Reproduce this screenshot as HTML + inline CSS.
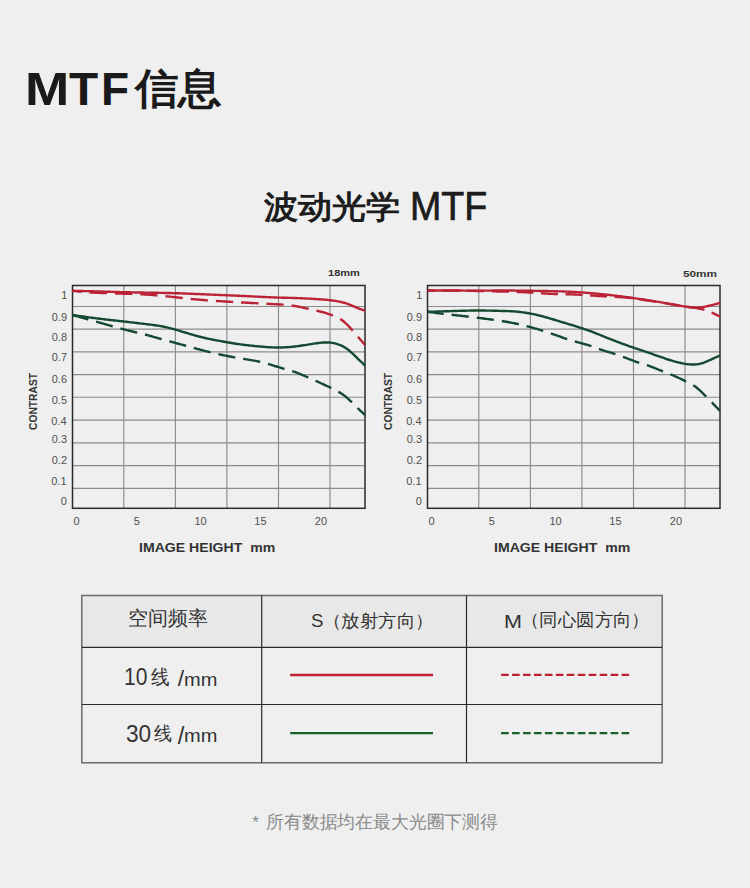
<!DOCTYPE html>
<html><head><meta charset="utf-8">
<style>
html,body{margin:0;padding:0;}
body{width:750px;height:888px;background:#efefef;position:relative;overflow:hidden;font-family:"Liberation Sans",sans-serif;}
.t{position:absolute;white-space:nowrap;line-height:1;transform-origin:0 0;}
svg{position:absolute;left:0;top:0;}
</style></head><body>
<svg width="750" height="888" viewBox="0 0 750 888">
<line x1="72.5" y1="306.5" x2="365.0" y2="306.5" stroke="#8c8c8c" stroke-width="1.15"/>
<line x1="72.5" y1="329.1" x2="365.0" y2="329.1" stroke="#8c8c8c" stroke-width="1.15"/>
<line x1="72.5" y1="351.9" x2="365.0" y2="351.9" stroke="#8c8c8c" stroke-width="1.15"/>
<line x1="72.5" y1="374.6" x2="365.0" y2="374.6" stroke="#8c8c8c" stroke-width="1.15"/>
<line x1="72.5" y1="397.2" x2="365.0" y2="397.2" stroke="#8c8c8c" stroke-width="1.15"/>
<line x1="72.5" y1="420.1" x2="365.0" y2="420.1" stroke="#8c8c8c" stroke-width="1.15"/>
<line x1="72.5" y1="442.9" x2="365.0" y2="442.9" stroke="#8c8c8c" stroke-width="1.15"/>
<line x1="72.5" y1="465.6" x2="365.0" y2="465.6" stroke="#8c8c8c" stroke-width="1.15"/>
<line x1="72.5" y1="488.4" x2="365.0" y2="488.4" stroke="#8c8c8c" stroke-width="1.15"/>
<line x1="123.8" y1="285.5" x2="123.8" y2="508.3" stroke="#8c8c8c" stroke-width="1.15"/>
<line x1="175.4" y1="285.5" x2="175.4" y2="508.3" stroke="#8c8c8c" stroke-width="1.15"/>
<line x1="226.9" y1="285.5" x2="226.9" y2="508.3" stroke="#8c8c8c" stroke-width="1.15"/>
<line x1="278.5" y1="285.5" x2="278.5" y2="508.3" stroke="#8c8c8c" stroke-width="1.15"/>
<line x1="330.0" y1="285.5" x2="330.0" y2="508.3" stroke="#8c8c8c" stroke-width="1.15"/>
<rect x="72.5" y="285.5" width="292.5" height="222.8" fill="none" stroke="#2a2a2a" stroke-width="1.5"/>
<path d="M72.50,290.81 L74.00,290.98 L75.50,291.15 L77.00,291.32 L78.50,291.49 L80.00,291.65 L81.50,291.80 L83.00,291.95 L84.50,292.09 L86.00,292.21 L87.50,292.32 L89.00,292.42 L90.50,292.51 L92.00,292.59 L93.50,292.66 L95.00,292.72 L96.50,292.78 L98.00,292.84 L99.50,292.89 L101.00,292.94 L102.50,292.99 L104.00,293.04 L105.50,293.10 L107.00,293.15 L108.50,293.20 L110.00,293.25 L111.50,293.30 L113.00,293.35 L114.50,293.40 L116.00,293.45 L117.50,293.49 L119.00,293.54 L120.50,293.59 L122.00,293.64 L123.50,293.68 L125.00,293.73 L126.50,293.77 L128.00,293.82 L129.50,293.86 L131.00,293.91 L132.50,293.96 L134.00,294.01 L135.50,294.06 L137.00,294.12 L138.50,294.18 L140.00,294.25 L141.50,294.32 L143.00,294.39 L144.50,294.47 L146.00,294.56 L147.50,294.66 L149.00,294.76 L150.50,294.86 L152.00,294.98 L153.50,295.09 L155.00,295.22 L156.50,295.34 L158.00,295.48 L159.50,295.61 L161.00,295.75 L162.50,295.90 L164.00,296.04 L165.50,296.19 L167.00,296.35 L168.50,296.50 L170.00,296.66 L171.50,296.82 L173.00,296.98 L174.50,297.15 L176.00,297.31 L177.50,297.48 L179.00,297.64 L180.50,297.81 L182.00,297.97 L183.50,298.14 L185.00,298.30 L186.50,298.46 L188.00,298.62 L189.50,298.78 L191.00,298.94 L192.50,299.09 L194.00,299.24 L195.50,299.39 L197.00,299.53 L198.50,299.66 L200.00,299.80 L201.50,299.92 L203.00,300.05 L204.50,300.16 L206.00,300.28 L207.50,300.39 L209.00,300.49 L210.50,300.60 L212.00,300.70 L213.50,300.80 L215.00,300.89 L216.50,300.99 L218.00,301.08 L219.50,301.17 L221.00,301.26 L222.50,301.35 L224.00,301.44 L225.50,301.53 L227.00,301.62 L228.50,301.71 L230.00,301.80 L231.50,301.89 L233.00,301.97 L234.50,302.06 L236.00,302.15 L237.50,302.23 L239.00,302.31 L240.50,302.40 L242.00,302.48 L243.50,302.56 L245.00,302.64 L246.50,302.72 L248.00,302.80 L249.50,302.87 L251.00,302.95 L252.50,303.02 L254.00,303.10 L255.50,303.17 L257.00,303.25 L258.50,303.32 L260.00,303.39 L261.50,303.47 L263.00,303.54 L264.50,303.62 L266.00,303.69 L267.50,303.77 L269.00,303.85 L270.50,303.93 L272.00,304.01 L273.50,304.09 L275.00,304.18 L276.50,304.26 L278.00,304.35 L279.50,304.45 L281.00,304.55 L282.50,304.65 L284.00,304.76 L285.50,304.88 L287.00,305.02 L288.50,305.17 L290.00,305.33 L291.50,305.51 L293.00,305.72 L294.50,305.94 L296.00,306.19 L297.50,306.47 L299.00,306.76 L300.50,307.07 L302.00,307.39 L303.50,307.72 L305.00,308.06 L306.50,308.40 L308.00,308.75 L309.50,309.08 L311.00,309.42 L312.50,309.75 L314.00,310.09 L315.50,310.42 L317.00,310.77 L318.50,311.12 L320.00,311.49 L321.50,311.87 L323.00,312.27 L324.50,312.69 L326.00,313.13 L327.50,313.59 L329.00,314.08 L330.50,314.60 L332.00,315.14 L333.50,315.72 L335.00,316.33 L336.50,316.99 L338.00,317.72 L339.50,318.54 L341.00,319.47 L342.50,320.53 L344.00,321.73 L345.50,323.06 L347.00,324.49 L348.50,326.01 L350.00,327.61 L351.50,329.26 L353.00,330.96 L354.50,332.69 L356.00,334.44 L357.50,336.20 L359.00,337.96 L360.50,339.73 L362.00,341.49 L363.50,343.25 L365.00,345.00" fill="none" stroke="#bb2236" stroke-width="2.4" stroke-dasharray="17.3 8" stroke-dashoffset="8.0"/>
<path d="M72.50,290.80 L74.00,290.84 L75.50,290.87 L77.00,290.91 L78.50,290.94 L80.00,290.98 L81.50,291.02 L83.00,291.05 L84.50,291.09 L86.00,291.13 L87.50,291.16 L89.00,291.20 L90.50,291.24 L92.00,291.28 L93.50,291.32 L95.00,291.36 L96.50,291.40 L98.00,291.44 L99.50,291.49 L101.00,291.53 L102.50,291.57 L104.00,291.62 L105.50,291.67 L107.00,291.71 L108.50,291.76 L110.00,291.80 L111.50,291.85 L113.00,291.89 L114.50,291.94 L116.00,291.98 L117.50,292.03 L119.00,292.07 L120.50,292.11 L122.00,292.15 L123.50,292.19 L125.00,292.22 L126.50,292.26 L128.00,292.29 L129.50,292.32 L131.00,292.35 L132.50,292.38 L134.00,292.41 L135.50,292.44 L137.00,292.47 L138.50,292.49 L140.00,292.52 L141.50,292.54 L143.00,292.57 L144.50,292.59 L146.00,292.62 L147.50,292.64 L149.00,292.66 L150.50,292.69 L152.00,292.71 L153.50,292.74 L155.00,292.76 L156.50,292.79 L158.00,292.82 L159.50,292.84 L161.00,292.87 L162.50,292.90 L164.00,292.93 L165.50,292.96 L167.00,293.00 L168.50,293.03 L170.00,293.07 L171.50,293.11 L173.00,293.15 L174.50,293.19 L176.00,293.23 L177.50,293.28 L179.00,293.32 L180.50,293.37 L182.00,293.42 L183.50,293.47 L185.00,293.53 L186.50,293.58 L188.00,293.64 L189.50,293.70 L191.00,293.75 L192.50,293.81 L194.00,293.88 L195.50,293.94 L197.00,294.00 L198.50,294.06 L200.00,294.13 L201.50,294.19 L203.00,294.26 L204.50,294.32 L206.00,294.39 L207.50,294.45 L209.00,294.52 L210.50,294.58 L212.00,294.65 L213.50,294.72 L215.00,294.78 L216.50,294.85 L218.00,294.91 L219.50,294.98 L221.00,295.04 L222.50,295.11 L224.00,295.17 L225.50,295.23 L227.00,295.29 L228.50,295.36 L230.00,295.42 L231.50,295.48 L233.00,295.54 L234.50,295.61 L236.00,295.67 L237.50,295.74 L239.00,295.80 L240.50,295.87 L242.00,295.93 L243.50,296.00 L245.00,296.07 L246.50,296.14 L248.00,296.21 L249.50,296.28 L251.00,296.35 L252.50,296.42 L254.00,296.50 L255.50,296.58 L257.00,296.65 L258.50,296.73 L260.00,296.80 L261.50,296.88 L263.00,296.95 L264.50,297.03 L266.00,297.10 L267.50,297.17 L269.00,297.23 L270.50,297.30 L272.00,297.36 L273.50,297.42 L275.00,297.48 L276.50,297.53 L278.00,297.58 L279.50,297.62 L281.00,297.66 L282.50,297.70 L284.00,297.73 L285.50,297.77 L287.00,297.80 L288.50,297.83 L290.00,297.87 L291.50,297.90 L293.00,297.95 L294.50,297.99 L296.00,298.04 L297.50,298.09 L299.00,298.15 L300.50,298.21 L302.00,298.28 L303.50,298.35 L305.00,298.43 L306.50,298.50 L308.00,298.59 L309.50,298.67 L311.00,298.75 L312.50,298.84 L314.00,298.93 L315.50,299.02 L317.00,299.12 L318.50,299.21 L320.00,299.31 L321.50,299.42 L323.00,299.53 L324.50,299.66 L326.00,299.79 L327.50,299.93 L329.00,300.09 L330.50,300.25 L332.00,300.44 L333.50,300.64 L335.00,300.86 L336.50,301.10 L338.00,301.37 L339.50,301.66 L341.00,301.99 L342.50,302.35 L344.00,302.76 L345.50,303.21 L347.00,303.70 L348.50,304.24 L350.00,304.81 L351.50,305.41 L353.00,306.03 L354.50,306.66 L356.00,307.29 L357.50,307.91 L359.00,308.51 L360.50,309.07 L362.00,309.59 L363.50,310.08 L365.00,310.56" fill="none" stroke="#bb2236" stroke-width="2.4"/>
<path d="M72.50,315.00 L74.00,315.42 L75.50,315.84 L77.00,316.27 L78.50,316.69 L80.00,317.11 L81.50,317.53 L83.00,317.95 L84.50,318.38 L86.00,318.80 L87.50,319.22 L89.00,319.64 L90.50,320.06 L92.00,320.48 L93.50,320.90 L95.00,321.32 L96.50,321.75 L98.00,322.17 L99.50,322.59 L101.00,323.01 L102.50,323.44 L104.00,323.86 L105.50,324.29 L107.00,324.71 L108.50,325.14 L110.00,325.56 L111.50,325.98 L113.00,326.41 L114.50,326.83 L116.00,327.24 L117.50,327.66 L119.00,328.07 L120.50,328.47 L122.00,328.87 L123.50,329.27 L125.00,329.66 L126.50,330.04 L128.00,330.42 L129.50,330.79 L131.00,331.15 L132.50,331.50 L134.00,331.86 L135.50,332.21 L137.00,332.56 L138.50,332.92 L140.00,333.27 L141.50,333.64 L143.00,334.01 L144.50,334.39 L146.00,334.78 L147.50,335.17 L149.00,335.58 L150.50,336.00 L152.00,336.42 L153.50,336.85 L155.00,337.28 L156.50,337.71 L158.00,338.14 L159.50,338.57 L161.00,338.99 L162.50,339.41 L164.00,339.83 L165.50,340.25 L167.00,340.66 L168.50,341.07 L170.00,341.47 L171.50,341.88 L173.00,342.28 L174.50,342.68 L176.00,343.08 L177.50,343.48 L179.00,343.89 L180.50,344.29 L182.00,344.69 L183.50,345.10 L185.00,345.50 L186.50,345.91 L188.00,346.32 L189.50,346.74 L191.00,347.15 L192.50,347.56 L194.00,347.98 L195.50,348.39 L197.00,348.80 L198.50,349.20 L200.00,349.61 L201.50,350.01 L203.00,350.41 L204.50,350.80 L206.00,351.19 L207.50,351.57 L209.00,351.95 L210.50,352.32 L212.00,352.68 L213.50,353.04 L215.00,353.39 L216.50,353.73 L218.00,354.06 L219.50,354.39 L221.00,354.71 L222.50,355.03 L224.00,355.34 L225.50,355.64 L227.00,355.94 L228.50,356.23 L230.00,356.52 L231.50,356.80 L233.00,357.08 L234.50,357.35 L236.00,357.61 L237.50,357.88 L239.00,358.13 L240.50,358.38 L242.00,358.63 L243.50,358.87 L245.00,359.11 L246.50,359.35 L248.00,359.58 L249.50,359.83 L251.00,360.07 L252.50,360.33 L254.00,360.60 L255.50,360.88 L257.00,361.17 L258.50,361.49 L260.00,361.82 L261.50,362.18 L263.00,362.55 L264.50,362.94 L266.00,363.35 L267.50,363.78 L269.00,364.21 L270.50,364.66 L272.00,365.11 L273.50,365.57 L275.00,366.04 L276.50,366.50 L278.00,366.96 L279.50,367.42 L281.00,367.88 L282.50,368.32 L284.00,368.76 L285.50,369.19 L287.00,369.61 L288.50,370.04 L290.00,370.47 L291.50,370.92 L293.00,371.38 L294.50,371.88 L296.00,372.40 L297.50,372.97 L299.00,373.55 L300.50,374.16 L302.00,374.80 L303.50,375.44 L305.00,376.09 L306.50,376.75 L308.00,377.41 L309.50,378.07 L311.00,378.73 L312.50,379.39 L314.00,380.06 L315.50,380.73 L317.00,381.41 L318.50,382.09 L320.00,382.78 L321.50,383.47 L323.00,384.17 L324.50,384.87 L326.00,385.57 L327.50,386.28 L329.00,386.99 L330.50,387.70 L332.00,388.41 L333.50,389.14 L335.00,389.89 L336.50,390.67 L338.00,391.49 L339.50,392.36 L341.00,393.28 L342.50,394.28 L344.00,395.36 L345.50,396.53 L347.00,397.79 L348.50,399.13 L350.00,400.54 L351.50,401.98 L353.00,403.46 L354.50,404.95 L356.00,406.44 L357.50,407.92 L359.00,409.37 L360.50,410.80 L362.00,412.22 L363.50,413.62 L365.00,415.02" fill="none" stroke="#134a30" stroke-width="2.4" stroke-dasharray="17.3 8" stroke-dashoffset="0.8"/>
<path d="M72.50,315.00 L74.00,315.22 L75.50,315.44 L77.00,315.66 L78.50,315.87 L80.00,316.09 L81.50,316.31 L83.00,316.52 L84.50,316.73 L86.00,316.94 L87.50,317.15 L89.00,317.36 L90.50,317.57 L92.00,317.77 L93.50,317.97 L95.00,318.17 L96.50,318.36 L98.00,318.55 L99.50,318.74 L101.00,318.92 L102.50,319.10 L104.00,319.27 L105.50,319.45 L107.00,319.62 L108.50,319.79 L110.00,319.95 L111.50,320.12 L113.00,320.29 L114.50,320.45 L116.00,320.61 L117.50,320.78 L119.00,320.94 L120.50,321.11 L122.00,321.28 L123.50,321.45 L125.00,321.62 L126.50,321.79 L128.00,321.97 L129.50,322.14 L131.00,322.32 L132.50,322.50 L134.00,322.68 L135.50,322.86 L137.00,323.04 L138.50,323.22 L140.00,323.40 L141.50,323.58 L143.00,323.75 L144.50,323.93 L146.00,324.11 L147.50,324.28 L149.00,324.46 L150.50,324.64 L152.00,324.83 L153.50,325.02 L155.00,325.23 L156.50,325.44 L158.00,325.68 L159.50,325.93 L161.00,326.19 L162.50,326.48 L164.00,326.79 L165.50,327.11 L167.00,327.45 L168.50,327.80 L170.00,328.17 L171.50,328.56 L173.00,328.95 L174.50,329.37 L176.00,329.79 L177.50,330.22 L179.00,330.66 L180.50,331.11 L182.00,331.57 L183.50,332.03 L185.00,332.48 L186.50,332.94 L188.00,333.40 L189.50,333.85 L191.00,334.29 L192.50,334.72 L194.00,335.15 L195.50,335.57 L197.00,335.98 L198.50,336.38 L200.00,336.77 L201.50,337.15 L203.00,337.52 L204.50,337.88 L206.00,338.22 L207.50,338.55 L209.00,338.88 L210.50,339.19 L212.00,339.49 L213.50,339.79 L215.00,340.08 L216.50,340.36 L218.00,340.64 L219.50,340.92 L221.00,341.19 L222.50,341.46 L224.00,341.73 L225.50,341.99 L227.00,342.25 L228.50,342.51 L230.00,342.76 L231.50,343.01 L233.00,343.25 L234.50,343.49 L236.00,343.72 L237.50,343.94 L239.00,344.16 L240.50,344.37 L242.00,344.57 L243.50,344.76 L245.00,344.95 L246.50,345.13 L248.00,345.31 L249.50,345.47 L251.00,345.64 L252.50,345.79 L254.00,345.95 L255.50,346.09 L257.00,346.23 L258.50,346.37 L260.00,346.51 L261.50,346.64 L263.00,346.76 L264.50,346.88 L266.00,346.99 L267.50,347.10 L269.00,347.19 L270.50,347.27 L272.00,347.35 L273.50,347.40 L275.00,347.45 L276.50,347.48 L278.00,347.49 L279.50,347.49 L281.00,347.47 L282.50,347.43 L284.00,347.38 L285.50,347.31 L287.00,347.22 L288.50,347.12 L290.00,347.00 L291.50,346.87 L293.00,346.72 L294.50,346.55 L296.00,346.37 L297.50,346.18 L299.00,345.97 L300.50,345.76 L302.00,345.53 L303.50,345.30 L305.00,345.06 L306.50,344.82 L308.00,344.58 L309.50,344.34 L311.00,344.10 L312.50,343.86 L314.00,343.63 L315.50,343.41 L317.00,343.19 L318.50,343.00 L320.00,342.82 L321.50,342.67 L323.00,342.55 L324.50,342.47 L326.00,342.43 L327.50,342.45 L329.00,342.52 L330.50,342.64 L332.00,342.84 L333.50,343.09 L335.00,343.42 L336.50,343.81 L338.00,344.28 L339.50,344.82 L341.00,345.44 L342.50,346.15 L344.00,346.96 L345.50,347.87 L347.00,348.89 L348.50,350.01 L350.00,351.24 L351.50,352.55 L353.00,353.95 L354.50,355.40 L356.00,356.87 L357.50,358.35 L359.00,359.81 L360.50,361.25 L362.00,362.68 L363.50,364.10 L365.00,365.52" fill="none" stroke="#134a30" stroke-width="2.4"/>
<line x1="427.5" y1="306.5" x2="720.0" y2="306.5" stroke="#8c8c8c" stroke-width="1.15"/>
<line x1="427.5" y1="329.1" x2="720.0" y2="329.1" stroke="#8c8c8c" stroke-width="1.15"/>
<line x1="427.5" y1="351.9" x2="720.0" y2="351.9" stroke="#8c8c8c" stroke-width="1.15"/>
<line x1="427.5" y1="374.6" x2="720.0" y2="374.6" stroke="#8c8c8c" stroke-width="1.15"/>
<line x1="427.5" y1="397.2" x2="720.0" y2="397.2" stroke="#8c8c8c" stroke-width="1.15"/>
<line x1="427.5" y1="420.1" x2="720.0" y2="420.1" stroke="#8c8c8c" stroke-width="1.15"/>
<line x1="427.5" y1="442.9" x2="720.0" y2="442.9" stroke="#8c8c8c" stroke-width="1.15"/>
<line x1="427.5" y1="465.6" x2="720.0" y2="465.6" stroke="#8c8c8c" stroke-width="1.15"/>
<line x1="427.5" y1="488.4" x2="720.0" y2="488.4" stroke="#8c8c8c" stroke-width="1.15"/>
<line x1="478.8" y1="285.5" x2="478.8" y2="508.3" stroke="#8c8c8c" stroke-width="1.15"/>
<line x1="530.4" y1="285.5" x2="530.4" y2="508.3" stroke="#8c8c8c" stroke-width="1.15"/>
<line x1="581.9" y1="285.5" x2="581.9" y2="508.3" stroke="#8c8c8c" stroke-width="1.15"/>
<line x1="633.5" y1="285.5" x2="633.5" y2="508.3" stroke="#8c8c8c" stroke-width="1.15"/>
<line x1="685.0" y1="285.5" x2="685.0" y2="508.3" stroke="#8c8c8c" stroke-width="1.15"/>
<rect x="427.5" y="285.5" width="292.5" height="222.8" fill="none" stroke="#2a2a2a" stroke-width="1.5"/>
<path d="M427.70,290.50 L429.21,290.51 L430.71,290.51 L432.22,290.52 L433.73,290.53 L435.23,290.53 L436.74,290.54 L438.25,290.55 L439.75,290.56 L441.26,290.56 L442.77,290.57 L444.27,290.58 L445.78,290.59 L447.29,290.60 L448.79,290.61 L450.30,290.62 L451.81,290.63 L453.31,290.65 L454.82,290.66 L456.33,290.67 L457.83,290.69 L459.34,290.70 L460.85,290.72 L462.35,290.74 L463.86,290.76 L465.37,290.77 L466.87,290.79 L468.38,290.82 L469.89,290.84 L471.39,290.86 L472.90,290.89 L474.41,290.91 L475.91,290.94 L477.42,290.97 L478.93,291.00 L480.43,291.03 L481.94,291.06 L483.45,291.10 L484.95,291.13 L486.46,291.17 L487.97,291.20 L489.47,291.24 L490.98,291.28 L492.49,291.32 L493.99,291.35 L495.50,291.39 L497.01,291.43 L498.51,291.46 L500.02,291.50 L501.53,291.53 L503.04,291.57 L504.54,291.60 L506.05,291.64 L507.56,291.67 L509.06,291.71 L510.57,291.75 L512.08,291.79 L513.58,291.83 L515.09,291.87 L516.60,291.92 L518.10,291.97 L519.61,292.02 L521.12,292.08 L522.62,292.14 L524.13,292.20 L525.64,292.27 L527.14,292.35 L528.65,292.43 L530.16,292.52 L531.66,292.61 L533.17,292.71 L534.68,292.81 L536.18,292.91 L537.69,293.02 L539.20,293.12 L540.70,293.23 L542.21,293.33 L543.72,293.43 L545.22,293.53 L546.73,293.62 L548.24,293.70 L549.74,293.78 L551.25,293.85 L552.76,293.91 L554.26,293.96 L555.77,294.00 L557.28,294.05 L558.78,294.08 L560.29,294.12 L561.80,294.15 L563.30,294.18 L564.81,294.21 L566.32,294.25 L567.82,294.28 L569.33,294.32 L570.84,294.36 L572.34,294.41 L573.85,294.46 L575.36,294.52 L576.86,294.59 L578.37,294.67 L579.88,294.75 L581.38,294.84 L582.89,294.93 L584.40,295.03 L585.90,295.13 L587.41,295.23 L588.92,295.33 L590.42,295.43 L591.93,295.54 L593.44,295.64 L594.94,295.74 L596.45,295.84 L597.96,295.93 L599.46,296.02 L600.97,296.11 L602.48,296.19 L603.98,296.27 L605.49,296.34 L607.00,296.42 L608.50,296.49 L610.01,296.57 L611.52,296.64 L613.02,296.72 L614.53,296.80 L616.04,296.89 L617.54,296.97 L619.05,297.07 L620.56,297.17 L622.06,297.27 L623.57,297.39 L625.08,297.51 L626.58,297.64 L628.09,297.78 L629.60,297.93 L631.10,298.09 L632.61,298.26 L634.12,298.44 L635.62,298.64 L637.13,298.84 L638.64,299.05 L640.14,299.27 L641.65,299.49 L643.16,299.72 L644.66,299.95 L646.17,300.19 L647.68,300.43 L649.19,300.66 L650.69,300.90 L652.20,301.14 L653.71,301.38 L655.21,301.62 L656.72,301.86 L658.23,302.10 L659.73,302.34 L661.24,302.58 L662.75,302.83 L664.25,303.08 L665.76,303.34 L667.27,303.59 L668.77,303.85 L670.28,304.12 L671.79,304.38 L673.29,304.64 L674.80,304.89 L676.31,305.15 L677.81,305.39 L679.32,305.64 L680.83,305.87 L682.33,306.10 L683.84,306.31 L685.35,306.52 L686.85,306.71 L688.36,306.90 L689.87,307.09 L691.37,307.29 L692.88,307.49 L694.39,307.70 L695.89,307.94 L697.40,308.20 L698.91,308.49 L700.41,308.81 L701.92,309.17 L703.43,309.58 L704.93,310.03 L706.44,310.54 L707.95,311.09 L709.45,311.69 L710.96,312.32 L712.47,312.97 L713.97,313.65 L715.48,314.34 L716.99,315.05 L718.49,315.76 L720.00,316.48" fill="none" stroke="#bb2236" stroke-width="2.4" stroke-dasharray="17 7.6" stroke-dashoffset="9.7"/>
<path d="M427.70,290.50 L429.21,290.49 L430.71,290.49 L432.22,290.48 L433.73,290.48 L435.23,290.47 L436.74,290.47 L438.25,290.46 L439.75,290.46 L441.26,290.46 L442.77,290.46 L444.27,290.46 L445.78,290.46 L447.29,290.46 L448.79,290.47 L450.30,290.47 L451.81,290.48 L453.31,290.49 L454.82,290.50 L456.33,290.51 L457.83,290.53 L459.34,290.54 L460.85,290.56 L462.35,290.58 L463.86,290.60 L465.37,290.61 L466.87,290.63 L468.38,290.64 L469.89,290.66 L471.39,290.67 L472.90,290.68 L474.41,290.69 L475.91,290.70 L477.42,290.70 L478.93,290.70 L480.43,290.69 L481.94,290.68 L483.45,290.67 L484.95,290.66 L486.46,290.64 L487.97,290.62 L489.47,290.61 L490.98,290.59 L492.49,290.57 L493.99,290.55 L495.50,290.54 L497.01,290.52 L498.51,290.51 L500.02,290.50 L501.53,290.50 L503.04,290.50 L504.54,290.50 L506.05,290.50 L507.56,290.51 L509.06,290.52 L510.57,290.53 L512.08,290.55 L513.58,290.56 L515.09,290.58 L516.60,290.60 L518.10,290.62 L519.61,290.64 L521.12,290.66 L522.62,290.68 L524.13,290.71 L525.64,290.73 L527.14,290.75 L528.65,290.78 L530.16,290.80 L531.66,290.82 L533.17,290.84 L534.68,290.87 L536.18,290.89 L537.69,290.91 L539.20,290.93 L540.70,290.95 L542.21,290.98 L543.72,291.00 L545.22,291.03 L546.73,291.05 L548.24,291.08 L549.74,291.11 L551.25,291.14 L552.76,291.17 L554.26,291.21 L555.77,291.25 L557.28,291.29 L558.78,291.33 L560.29,291.37 L561.80,291.42 L563.30,291.47 L564.81,291.53 L566.32,291.59 L567.82,291.65 L569.33,291.72 L570.84,291.79 L572.34,291.86 L573.85,291.94 L575.36,292.02 L576.86,292.11 L578.37,292.20 L579.88,292.30 L581.38,292.40 L582.89,292.51 L584.40,292.62 L585.90,292.73 L587.41,292.85 L588.92,292.97 L590.42,293.10 L591.93,293.23 L593.44,293.36 L594.94,293.50 L596.45,293.64 L597.96,293.78 L599.46,293.93 L600.97,294.08 L602.48,294.24 L603.98,294.39 L605.49,294.55 L607.00,294.71 L608.50,294.88 L610.01,295.05 L611.52,295.22 L613.02,295.39 L614.53,295.57 L616.04,295.75 L617.54,295.94 L619.05,296.12 L620.56,296.31 L622.06,296.50 L623.57,296.70 L625.08,296.90 L626.58,297.10 L628.09,297.31 L629.60,297.52 L631.10,297.73 L632.61,297.95 L634.12,298.16 L635.62,298.39 L637.13,298.61 L638.64,298.84 L640.14,299.07 L641.65,299.30 L643.16,299.53 L644.66,299.77 L646.17,300.00 L647.68,300.23 L649.19,300.47 L650.69,300.70 L652.20,300.94 L653.71,301.17 L655.21,301.41 L656.72,301.64 L658.23,301.88 L659.73,302.13 L661.24,302.37 L662.75,302.62 L664.25,302.88 L665.76,303.14 L667.27,303.41 L668.77,303.68 L670.28,303.95 L671.79,304.22 L673.29,304.50 L674.80,304.77 L676.31,305.05 L677.81,305.32 L679.32,305.58 L680.83,305.84 L682.33,306.09 L683.84,306.34 L685.35,306.57 L686.85,306.80 L688.36,307.00 L689.87,307.19 L691.37,307.34 L692.88,307.47 L694.39,307.55 L695.89,307.59 L697.40,307.58 L698.91,307.52 L700.41,307.40 L701.92,307.21 L703.43,306.97 L704.93,306.69 L706.44,306.37 L707.95,306.03 L709.45,305.67 L710.96,305.30 L712.47,304.92 L713.97,304.54 L715.48,304.16 L716.99,303.78 L718.49,303.39 L720.00,303.00" fill="none" stroke="#bb2236" stroke-width="2.4"/>
<path d="M427.70,311.80 L429.21,312.01 L430.71,312.21 L432.22,312.41 L433.73,312.61 L435.23,312.81 L436.74,313.01 L438.25,313.20 L439.75,313.39 L441.26,313.58 L442.77,313.77 L444.27,313.95 L445.78,314.12 L447.29,314.30 L448.79,314.47 L450.30,314.64 L451.81,314.80 L453.31,314.97 L454.82,315.13 L456.33,315.30 L457.83,315.46 L459.34,315.63 L460.85,315.80 L462.35,315.97 L463.86,316.14 L465.37,316.31 L466.87,316.48 L468.38,316.66 L469.89,316.84 L471.39,317.02 L472.90,317.20 L474.41,317.38 L475.91,317.56 L477.42,317.75 L478.93,317.93 L480.43,318.12 L481.94,318.31 L483.45,318.50 L484.95,318.69 L486.46,318.88 L487.97,319.08 L489.47,319.28 L490.98,319.48 L492.49,319.68 L493.99,319.89 L495.50,320.10 L497.01,320.32 L498.51,320.54 L500.02,320.77 L501.53,321.01 L503.04,321.25 L504.54,321.50 L506.05,321.76 L507.56,322.02 L509.06,322.30 L510.57,322.58 L512.08,322.87 L513.58,323.17 L515.09,323.47 L516.60,323.79 L518.10,324.11 L519.61,324.45 L521.12,324.79 L522.62,325.14 L524.13,325.50 L525.64,325.87 L527.14,326.24 L528.65,326.63 L530.16,327.03 L531.66,327.43 L533.17,327.85 L534.68,328.28 L536.18,328.71 L537.69,329.16 L539.20,329.61 L540.70,330.08 L542.21,330.55 L543.72,331.04 L545.22,331.53 L546.73,332.04 L548.24,332.55 L549.74,333.06 L551.25,333.59 L552.76,334.11 L554.26,334.63 L555.77,335.16 L557.28,335.69 L558.78,336.21 L560.29,336.73 L561.80,337.25 L563.30,337.77 L564.81,338.27 L566.32,338.78 L567.82,339.27 L569.33,339.75 L570.84,340.23 L572.34,340.69 L573.85,341.14 L575.36,341.58 L576.86,342.00 L578.37,342.41 L579.88,342.82 L581.38,343.23 L582.89,343.64 L584.40,344.05 L585.90,344.48 L587.41,344.92 L588.92,345.38 L590.42,345.87 L591.93,346.38 L593.44,346.92 L594.94,347.47 L596.45,348.02 L597.96,348.57 L599.46,349.10 L600.97,349.62 L602.48,350.11 L603.98,350.60 L605.49,351.07 L607.00,351.53 L608.50,351.99 L610.01,352.45 L611.52,352.92 L613.02,353.39 L614.53,353.87 L616.04,354.36 L617.54,354.87 L619.05,355.39 L620.56,355.92 L622.06,356.47 L623.57,357.02 L625.08,357.59 L626.58,358.17 L628.09,358.75 L629.60,359.33 L631.10,359.90 L632.61,360.48 L634.12,361.04 L635.62,361.59 L637.13,362.12 L638.64,362.63 L640.14,363.12 L641.65,363.60 L643.16,364.06 L644.66,364.52 L646.17,364.99 L647.68,365.47 L649.19,365.98 L650.69,366.51 L652.20,367.07 L653.71,367.65 L655.21,368.25 L656.72,368.87 L658.23,369.49 L659.73,370.11 L661.24,370.73 L662.75,371.34 L664.25,371.93 L665.76,372.51 L667.27,373.08 L668.77,373.66 L670.28,374.26 L671.79,374.87 L673.29,375.51 L674.80,376.17 L676.31,376.84 L677.81,377.53 L679.32,378.23 L680.83,378.93 L682.33,379.65 L683.84,380.36 L685.35,381.07 L686.85,381.78 L688.36,382.50 L689.87,383.25 L691.37,384.06 L692.88,384.95 L694.39,385.94 L695.89,387.04 L697.40,388.26 L698.91,389.56 L700.41,390.93 L701.92,392.36 L703.43,393.84 L704.93,395.34 L706.44,396.86 L707.95,398.38 L709.45,399.92 L710.96,401.46 L712.47,403.02 L713.97,404.59 L715.48,406.18 L716.99,407.77 L718.49,409.38 L720.00,410.99" fill="none" stroke="#134a30" stroke-width="2.4" stroke-dasharray="17.3 8" stroke-dashoffset="1.2"/>
<path d="M427.70,311.80 L429.21,311.76 L430.71,311.71 L432.22,311.67 L433.73,311.63 L435.23,311.58 L436.74,311.54 L438.25,311.50 L439.75,311.45 L441.26,311.41 L442.77,311.36 L444.27,311.32 L445.78,311.27 L447.29,311.23 L448.79,311.19 L450.30,311.14 L451.81,311.09 L453.31,311.05 L454.82,311.00 L456.33,310.96 L457.83,310.91 L459.34,310.87 L460.85,310.82 L462.35,310.78 L463.86,310.74 L465.37,310.70 L466.87,310.66 L468.38,310.63 L469.89,310.60 L471.39,310.57 L472.90,310.55 L474.41,310.53 L475.91,310.51 L477.42,310.51 L478.93,310.50 L480.43,310.51 L481.94,310.52 L483.45,310.53 L484.95,310.55 L486.46,310.58 L487.97,310.60 L489.47,310.63 L490.98,310.67 L492.49,310.70 L493.99,310.74 L495.50,310.78 L497.01,310.81 L498.51,310.85 L500.02,310.89 L501.53,310.93 L503.04,310.97 L504.54,311.01 L506.05,311.05 L507.56,311.10 L509.06,311.16 L510.57,311.23 L512.08,311.31 L513.58,311.41 L515.09,311.52 L516.60,311.64 L518.10,311.79 L519.61,311.95 L521.12,312.12 L522.62,312.32 L524.13,312.53 L525.64,312.75 L527.14,313.00 L528.65,313.26 L530.16,313.53 L531.66,313.82 L533.17,314.12 L534.68,314.44 L536.18,314.78 L537.69,315.13 L539.20,315.49 L540.70,315.86 L542.21,316.25 L543.72,316.65 L545.22,317.07 L546.73,317.49 L548.24,317.93 L549.74,318.37 L551.25,318.82 L552.76,319.27 L554.26,319.73 L555.77,320.20 L557.28,320.66 L558.78,321.12 L560.29,321.58 L561.80,322.03 L563.30,322.48 L564.81,322.94 L566.32,323.38 L567.82,323.83 L569.33,324.28 L570.84,324.74 L572.34,325.19 L573.85,325.65 L575.36,326.11 L576.86,326.58 L578.37,327.05 L579.88,327.53 L581.38,328.02 L582.89,328.51 L584.40,329.02 L585.90,329.54 L587.41,330.07 L588.92,330.61 L590.42,331.17 L591.93,331.74 L593.44,332.33 L594.94,332.92 L596.45,333.52 L597.96,334.13 L599.46,334.74 L600.97,335.35 L602.48,335.97 L603.98,336.58 L605.49,337.19 L607.00,337.79 L608.50,338.39 L610.01,338.98 L611.52,339.57 L613.02,340.15 L614.53,340.73 L616.04,341.31 L617.54,341.88 L619.05,342.45 L620.56,343.01 L622.06,343.57 L623.57,344.13 L625.08,344.68 L626.58,345.23 L628.09,345.77 L629.60,346.30 L631.10,346.83 L632.61,347.36 L634.12,347.88 L635.62,348.39 L637.13,348.89 L638.64,349.40 L640.14,349.90 L641.65,350.40 L643.16,350.90 L644.66,351.40 L646.17,351.91 L647.68,352.42 L649.19,352.93 L650.69,353.45 L652.20,353.98 L653.71,354.52 L655.21,355.05 L656.72,355.59 L658.23,356.13 L659.73,356.67 L661.24,357.20 L662.75,357.72 L664.25,358.24 L665.76,358.76 L667.27,359.26 L668.77,359.74 L670.28,360.22 L671.79,360.68 L673.29,361.12 L674.80,361.55 L676.31,361.95 L677.81,362.33 L679.32,362.69 L680.83,363.03 L682.33,363.34 L683.84,363.62 L685.35,363.88 L686.85,364.10 L688.36,364.28 L689.87,364.42 L691.37,364.51 L692.88,364.54 L694.39,364.51 L695.89,364.41 L697.40,364.24 L698.91,363.99 L700.41,363.66 L701.92,363.26 L703.43,362.78 L704.93,362.23 L706.44,361.61 L707.95,360.95 L709.45,360.26 L710.96,359.56 L712.47,358.86 L713.97,358.17 L715.48,357.49 L716.99,356.82 L718.49,356.15 L720.00,355.49" fill="none" stroke="#134a30" stroke-width="2.4"/>
<rect x="81.8" y="595.5" width="580" height="52" fill="#e8e8e8"/>
<rect x="81.8" y="595.5" width="580.4" height="167.3" fill="none" stroke="#6a6a6a" stroke-width="1.5"/>
<line x1="81.8" y1="647.3" x2="662.2" y2="647.3" stroke="#2a2a2a" stroke-width="1.2"/>
<line x1="81.8" y1="704.5" x2="662.2" y2="704.5" stroke="#2a2a2a" stroke-width="1.2"/>
<line x1="261.7" y1="595.5" x2="261.7" y2="762.8" stroke="#2a2a2a" stroke-width="1.2"/>
<line x1="466.5" y1="595.5" x2="466.5" y2="762.8" stroke="#2a2a2a" stroke-width="1.2"/>
<line x1="290.2" y1="675" x2="433" y2="675" stroke="#bd2233" stroke-width="2.3"/>
<line x1="290.2" y1="733.1" x2="433" y2="733.1" stroke="#16602c" stroke-width="2.3"/>
<line x1="501.1" y1="674.8" x2="629.6" y2="674.8" stroke="#bd2233" stroke-width="2.2" stroke-dasharray="7.6 3.35"/>
<line x1="501.1" y1="733.1" x2="629.6" y2="733.1" stroke="#16602c" stroke-width="2.2" stroke-dasharray="7.6 3.35"/>
</svg>
<div class="t" id="hM" style="left:24.50px;top:66.40px;font-size:46.48px;font-weight:700;color:#1a1a1a;transform:scaleX(1.1444);">M</div>
<div class="t" id="hT" style="left:68.50px;top:66.40px;font-size:46.48px;font-weight:700;color:#1a1a1a;transform:scaleX(1.0264);">T</div>
<div class="t" id="hF" style="left:101.00px;top:66.40px;font-size:46.48px;font-weight:700;color:#1a1a1a;transform:scaleX(0.9898);">F</div>
<div class="t" id="hCJK" style="left:135.00px;top:68.30px;font-size:42.00px;font-weight:700;color:#1a1a1a;transform:scaleX(1.0354);">信息</div>
<div class="t" id="sCJK" style="left:263.70px;top:190.70px;font-size:32.00px;font-weight:700;color:#1c1c1c;transform:scaleX(1.0662);">波动光学</div>
<div class="t" id="sMTF" style="left:409.80px;top:186.80px;font-size:39.74px;font-weight:400;color:#1c1c1c;transform:scaleX(0.9466);-webkit-text-stroke:0.7px #1c1c1c;">MTF</div>
<div class="t" id="y0_0" style="left:61.25px;top:289.80px;font-size:11.00px;font-weight:400;color:#505050;">1</div>
<div class="t" id="y0_1" style="left:51.75px;top:312.10px;font-size:11.00px;font-weight:400;color:#505050;">0.9</div>
<div class="t" id="y0_2" style="left:51.75px;top:332.35px;font-size:11.00px;font-weight:400;color:#505050;">0.8</div>
<div class="t" id="y0_3" style="left:51.75px;top:352.30px;font-size:11.00px;font-weight:400;color:#505050;">0.7</div>
<div class="t" id="y0_4" style="left:51.75px;top:373.95px;font-size:11.00px;font-weight:400;color:#505050;">0.6</div>
<div class="t" id="y0_5" style="left:51.75px;top:395.05px;font-size:11.00px;font-weight:400;color:#505050;">0.5</div>
<div class="t" id="y0_6" style="left:51.25px;top:416.35px;font-size:11.00px;font-weight:400;color:#505050;">0.4</div>
<div class="t" id="y0_7" style="left:51.75px;top:433.95px;font-size:11.00px;font-weight:400;color:#505050;">0.3</div>
<div class="t" id="y0_8" style="left:51.75px;top:455.30px;font-size:11.00px;font-weight:400;color:#505050;">0.2</div>
<div class="t" id="y0_9" style="left:51.25px;top:476.30px;font-size:11.00px;font-weight:400;color:#505050;">0.1</div>
<div class="t" id="y0_10" style="left:60.75px;top:496.25px;font-size:11.00px;font-weight:400;color:#505050;">0</div>
<div class="t" id="x0_0" style="left:73.40px;top:516.10px;font-size:11.00px;font-weight:400;color:#505050;">0</div>
<div class="t" id="x0_1" style="left:133.85px;top:516.10px;font-size:11.00px;font-weight:400;color:#505050;">5</div>
<div class="t" id="x0_2" style="left:194.50px;top:516.10px;font-size:11.00px;font-weight:400;color:#505050;">10</div>
<div class="t" id="x0_3" style="left:254.35px;top:516.10px;font-size:11.00px;font-weight:400;color:#505050;">15</div>
<div class="t" id="x0_4" style="left:314.85px;top:516.10px;font-size:11.00px;font-weight:400;color:#505050;">20</div>
<div class="t" id="ct0" style="left:29.30px;top:429.75px;font-size:10.27px;font-weight:700;color:#333;transform:rotate(-90deg);">CONTRAST</div>
<div class="t" id="ih0" style="left:139.00px;top:542.30px;font-size:12.34px;font-weight:700;color:#333;transform:scaleX(1.1429);">IMAGE HEIGHT&#160;&#160;mm</div>
<div class="t" id="y1_0" style="left:416.25px;top:289.80px;font-size:11.00px;font-weight:400;color:#505050;">1</div>
<div class="t" id="y1_1" style="left:406.75px;top:312.10px;font-size:11.00px;font-weight:400;color:#505050;">0.9</div>
<div class="t" id="y1_2" style="left:406.75px;top:332.35px;font-size:11.00px;font-weight:400;color:#505050;">0.8</div>
<div class="t" id="y1_3" style="left:406.75px;top:352.30px;font-size:11.00px;font-weight:400;color:#505050;">0.7</div>
<div class="t" id="y1_4" style="left:406.75px;top:373.95px;font-size:11.00px;font-weight:400;color:#505050;">0.6</div>
<div class="t" id="y1_5" style="left:406.75px;top:395.05px;font-size:11.00px;font-weight:400;color:#505050;">0.5</div>
<div class="t" id="y1_6" style="left:406.25px;top:416.35px;font-size:11.00px;font-weight:400;color:#505050;">0.4</div>
<div class="t" id="y1_7" style="left:406.75px;top:433.95px;font-size:11.00px;font-weight:400;color:#505050;">0.3</div>
<div class="t" id="y1_8" style="left:406.75px;top:455.30px;font-size:11.00px;font-weight:400;color:#505050;">0.2</div>
<div class="t" id="y1_9" style="left:406.25px;top:476.30px;font-size:11.00px;font-weight:400;color:#505050;">0.1</div>
<div class="t" id="y1_10" style="left:415.75px;top:496.25px;font-size:11.00px;font-weight:400;color:#505050;">0</div>
<div class="t" id="x1_0" style="left:428.40px;top:516.10px;font-size:11.00px;font-weight:400;color:#505050;">0</div>
<div class="t" id="x1_1" style="left:488.85px;top:516.10px;font-size:11.00px;font-weight:400;color:#505050;">5</div>
<div class="t" id="x1_2" style="left:549.50px;top:516.10px;font-size:11.00px;font-weight:400;color:#505050;">10</div>
<div class="t" id="x1_3" style="left:609.35px;top:516.10px;font-size:11.00px;font-weight:400;color:#505050;">15</div>
<div class="t" id="x1_4" style="left:669.85px;top:516.10px;font-size:11.00px;font-weight:400;color:#505050;">20</div>
<div class="t" id="ct1" style="left:384.30px;top:429.75px;font-size:10.27px;font-weight:700;color:#333;transform:rotate(-90deg);">CONTRAST</div>
<div class="t" id="ih1" style="left:494.00px;top:542.30px;font-size:12.34px;font-weight:700;color:#333;transform:scaleX(1.1429);">IMAGE HEIGHT&#160;&#160;mm</div>
<div class="t" id="fl0" style="left:327.85px;top:267.90px;font-size:9.44px;font-weight:700;color:#333;transform:scaleX(1.1696);">18mm</div>
<div class="t" id="fl1" style="left:682.85px;top:268.55px;font-size:9.49px;font-weight:700;color:#333;transform:scaleX(1.2391);">50mm</div>
<div class="t" id="th1" style="left:128.30px;top:608.40px;font-size:20.00px;font-weight:400;color:#333;transform:scaleX(0.9979);">空间频率</div>
<div class="t" id="thS" style="left:310.50px;top:612.10px;font-size:18.00px;font-weight:400;color:#333;transform:scaleX(1.0339);">S</div>
<div class="t" id="thSc" style="left:322.60px;top:611.60px;font-size:18.00px;font-weight:400;color:#333;transform:scaleX(1.0242);">（放射方向）</div>
<div class="t" id="thM" style="left:504.10px;top:611.80px;font-size:19.10px;font-weight:400;color:#333;transform:scaleX(1.1290);">M</div>
<div class="t" id="thMc" style="left:520.70px;top:611.20px;font-size:18.00px;font-weight:400;color:#333;transform:scaleX(1.0218);">（同心圆方向）</div>
<div class="t" id="r0n" style="left:124.40px;top:664.75px;font-size:24.69px;font-weight:400;color:#333;transform:scaleX(0.8506);">10</div>
<div class="t" id="r0c" style="left:150.70px;top:667.10px;font-size:20.00px;font-weight:400;color:#333;transform:scaleX(0.9289);">线</div>
<div class="t" id="r0s" style="left:177.75px;top:667.25px;font-size:22.82px;font-weight:400;color:#333;">/</div>
<div class="t" id="r0m" style="left:184.15px;top:669.85px;font-size:19.25px;font-weight:400;color:#333;transform:scaleX(1.0394);">mm</div>
<div class="t" id="r1n" style="left:126.20px;top:723.15px;font-size:23.01px;font-weight:400;color:#333;transform:scaleX(0.9837);">30</div>
<div class="t" id="r1c" style="left:153.55px;top:724.00px;font-size:19.00px;font-weight:400;color:#333;transform:scaleX(0.9475);">线</div>
<div class="t" id="r1s" style="left:177.70px;top:723.90px;font-size:23.85px;font-weight:400;color:#333;">/</div>
<div class="t" id="r1m" style="left:184.15px;top:725.60px;font-size:19.00px;font-weight:400;color:#333;transform:scaleX(1.0531);">mm</div>
<div class="t" id="fa" style="left:252.30px;top:814.00px;font-size:17.00px;font-weight:400;color:#8a8a8a;">*</div>
<div class="t" id="fc" style="left:265.50px;top:813.40px;font-size:18.00px;font-weight:400;color:#8a8a8a;transform:scaleX(0.9914);">所有数据均在最大光圈下测得</div>
</body></html>
